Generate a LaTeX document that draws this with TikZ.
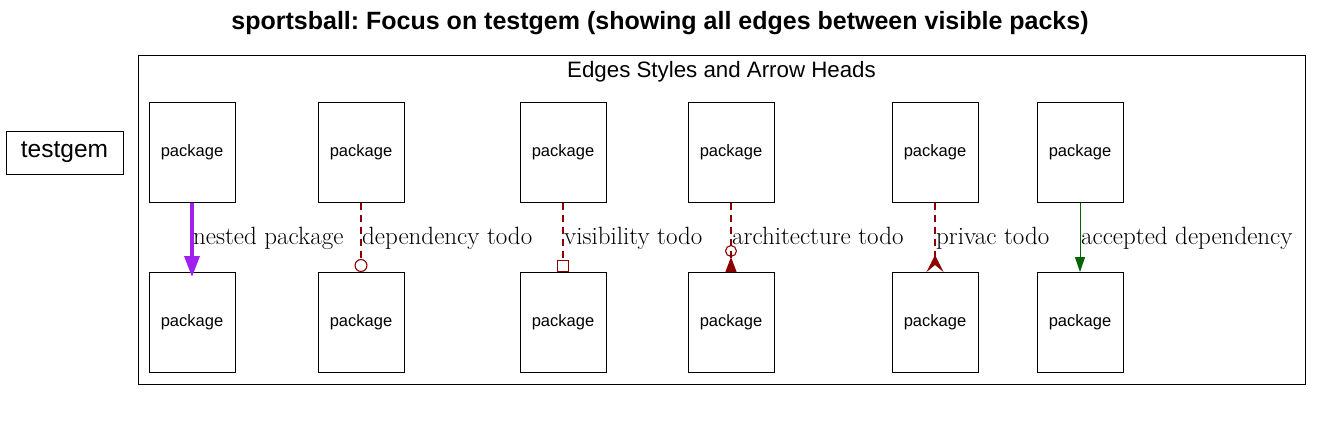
\documentclass[tikz,border=0pt]{standalone}
\usepackage{fontspec}
\setsansfont{Liberation Sans}
\usetikzlibrary{arrows.meta}
\definecolor{nestcol}{HTML}{A020F0}
\definecolor{todocol}{HTML}{8B0000}
\definecolor{okcol}{HTML}{006400}
\frenchspacing
\tikzset{
  pkg/.style={draw, line width=1pt, minimum width=86pt, minimum height=100pt,
              inner sep=0pt, font=\sffamily\fontsize{16.5}{18}\selectfont},
  elabel/.style={anchor=base west, inner sep=1pt, yshift=-7.5pt, text=black,
                 font=\fontsize{25}{28}\selectfont},
  todo/.style={draw=todocol, color=todocol, line width=1.1pt, dash pattern=on 7pt off 5pt},
}
\begin{document}
\begin{tikzpicture}[x=1pt, y=-1pt]
  \useasboundingbox (0,0) rectangle (1322,431);

  % Title
  \node[font=\sffamily\bfseries\fontsize{25}{28}\selectfont] (title) at (660,23)
    {sportsball: Focus on testgem (showing all edges between visible packs)};

  % Focus package, outside the cluster
  \node[draw, line width=1pt, minimum width=117pt, minimum height=43pt, inner sep=0pt,
        font=\sffamily\fontsize{24.5}{27}\selectfont] (testgem) at (64.5,152.5) {testgem};

  % Cluster frame and its label
  \draw[line width=1pt] (138,55) rectangle (1305,384);
  \node[font=\sffamily\fontsize{22.3}{25}\selectfont] (cluster) at (721.5,72)
    {Edges Styles and Arrow Heads};

  % Packages: one column per edge style
  \foreach \x/\n in {192/nest, 361/dep, 563/vis, 731/arch, 935/priv, 1080/acc} {
    \node[pkg] (\n-src) at (\x,152) {package};
    \node[pkg] (\n-dst) at (\x,322.5) {package};
  }

  % Edges
  \draw[nestcol, line width=3.5pt, shorten >=-5pt, -{Triangle[length=21pt, width=15pt]}]
    (nest-src) -- (nest-dst);
  \draw[todo, -{Circle[open, length=13pt]}] (dep-src) -- (dep-dst);
  \draw[todo, -{Square[open, length=12pt]}] (vis-src) -- (vis-dst);
  \draw[todo, -{Circle[open, length=12pt] Triangle[reversed, length=15pt, width=11pt]}]
    (arch-src) -- (arch-dst);
  \draw[todo, -{Stealth[reversed, length=17pt, width=17pt, inset=7pt]}]
    (priv-src) -- (priv-dst);
  \draw[okcol, line width=1pt, -{Triangle[length=15pt, width=10pt]}] (acc-src) -- (acc-dst);

  % Edge labels, right of each edge, on one baseline
  \foreach \n/\t in {nest/nested package, dep/dependency todo, vis/visibility todo,
                     arch/architecture todo, priv/privac todo, acc/accepted dependency}
    \path (\n-src.south) -- (\n-dst.north) node[elabel, midway] {\t};
\end{tikzpicture}
\end{document}
